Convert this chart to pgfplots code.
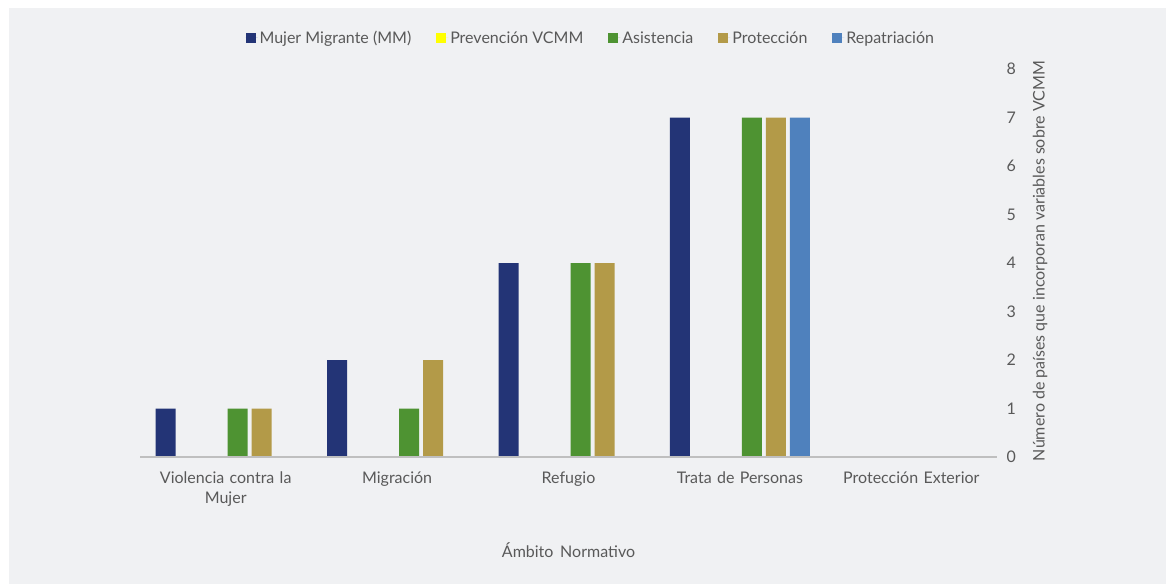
\documentclass[border=0pt]{standalone}
\usepackage{fontspec}
\setmainfont{Lato}
\usepackage{pgfplots}
\pgfplotsset{compat=1.18}
\definecolor{bg}{RGB}{240,241,243}
\definecolor{cMM}{RGB}{35,52,118}
\definecolor{cPrev}{RGB}{255,255,0}
\definecolor{cAsis}{RGB}{78,147,50}
\definecolor{cProt}{RGB}{179,154,72}
\definecolor{cRep}{RGB}{79,129,189}
\definecolor{txt}{RGB}{89,89,89}
\definecolor{axl}{RGB}{191,191,191}
\newcommand{\cf}{\fontsize{16}{20}\selectfont}
\begin{document}
\begin{tikzpicture}[x=1pt,y=1pt]
\path[use as bounding box] (0,0) rectangle (1166,584);
\fill[white] (0,0) rectangle (1166,584);
\fill[bg] (9,0) rectangle (1166,576);
\begin{axis}[
  at={(140pt,127pt)}, anchor=south west,
  scale only axis, width=857pt, height=388pt,
  xmin=-0.5, xmax=4.5, ymin=0, ymax=8,
  axis on top,
  axis x line*=bottom, axis y line*=right,
  y axis line style={draw=none},
  x axis line style={draw=axl, line width=2pt, -},
  major tick length=0pt,
  xtick={0,1,2,3,4},
  xticklabels={{Violencia contra la\\Mujer},{Migración},{Refugio},{Trata de Personas},{Protección Exterior}},
  xticklabel style={text width=150pt, align=center, font=\cf, text=txt, yshift=-11pt},
  ytick={0,1,...,8},
  yticklabel style={font=\cf, text=txt, xshift=6pt},
  /pgf/number format/assume math mode=true,
  xlabel={Ámbito\, Normativo},
  ylabel={Número de países que incorporan variables sobre VCMM},
  every axis x label/.style={at={(axis description cs:0.5,-0.2397)}, anchor=center, font=\cf, text=txt},
  every axis y label/.style={at={(axis description cs:1.0502,0.505)}, anchor=center, rotate=90, font=\cf, text=txt},
  ybar, bar width=20pt,
  every axis plot/.append style={draw=none},
  legend columns=5,
  legend style={at={(axis description cs:0.526,1.080)}, anchor=center, draw=none, fill=none, font=\cf, text=txt,
    /tikz/every even column/.append style={column sep=23pt}},
  legend image code/.code={\fill[#1,draw=none] (0pt,-5pt) rectangle (10pt,5pt); \path (0pt,0pt) -- (12pt,0pt);},
]
\addplot[fill=cMM, bar shift=-60pt] coordinates {(0,1) (1,2) (2,4) (3,7) (4,0)};
\addlegendentry{Mujer Migrante (MM)}
\addplot[fill=cPrev, bar shift=-36pt] coordinates {(0,0) (1,0) (2,0) (3,0) (4,0)};
\addlegendentry{Prevención VCMM}
\addplot[fill=cAsis, bar shift=12pt] coordinates {(0,1) (1,1) (2,4) (3,7) (4,0)};
\addlegendentry{Asistencia}
\addplot[fill=cProt, bar shift=36pt] coordinates {(0,1) (1,2) (2,4) (3,7) (4,0)};
\addlegendentry{Protección}
\addplot[fill=cRep, bar shift=60pt] coordinates {(0,0) (1,0) (2,0) (3,7) (4,0)};
\addlegendentry{Repatriación}
\end{axis}
\end{tikzpicture}
\end{document}
